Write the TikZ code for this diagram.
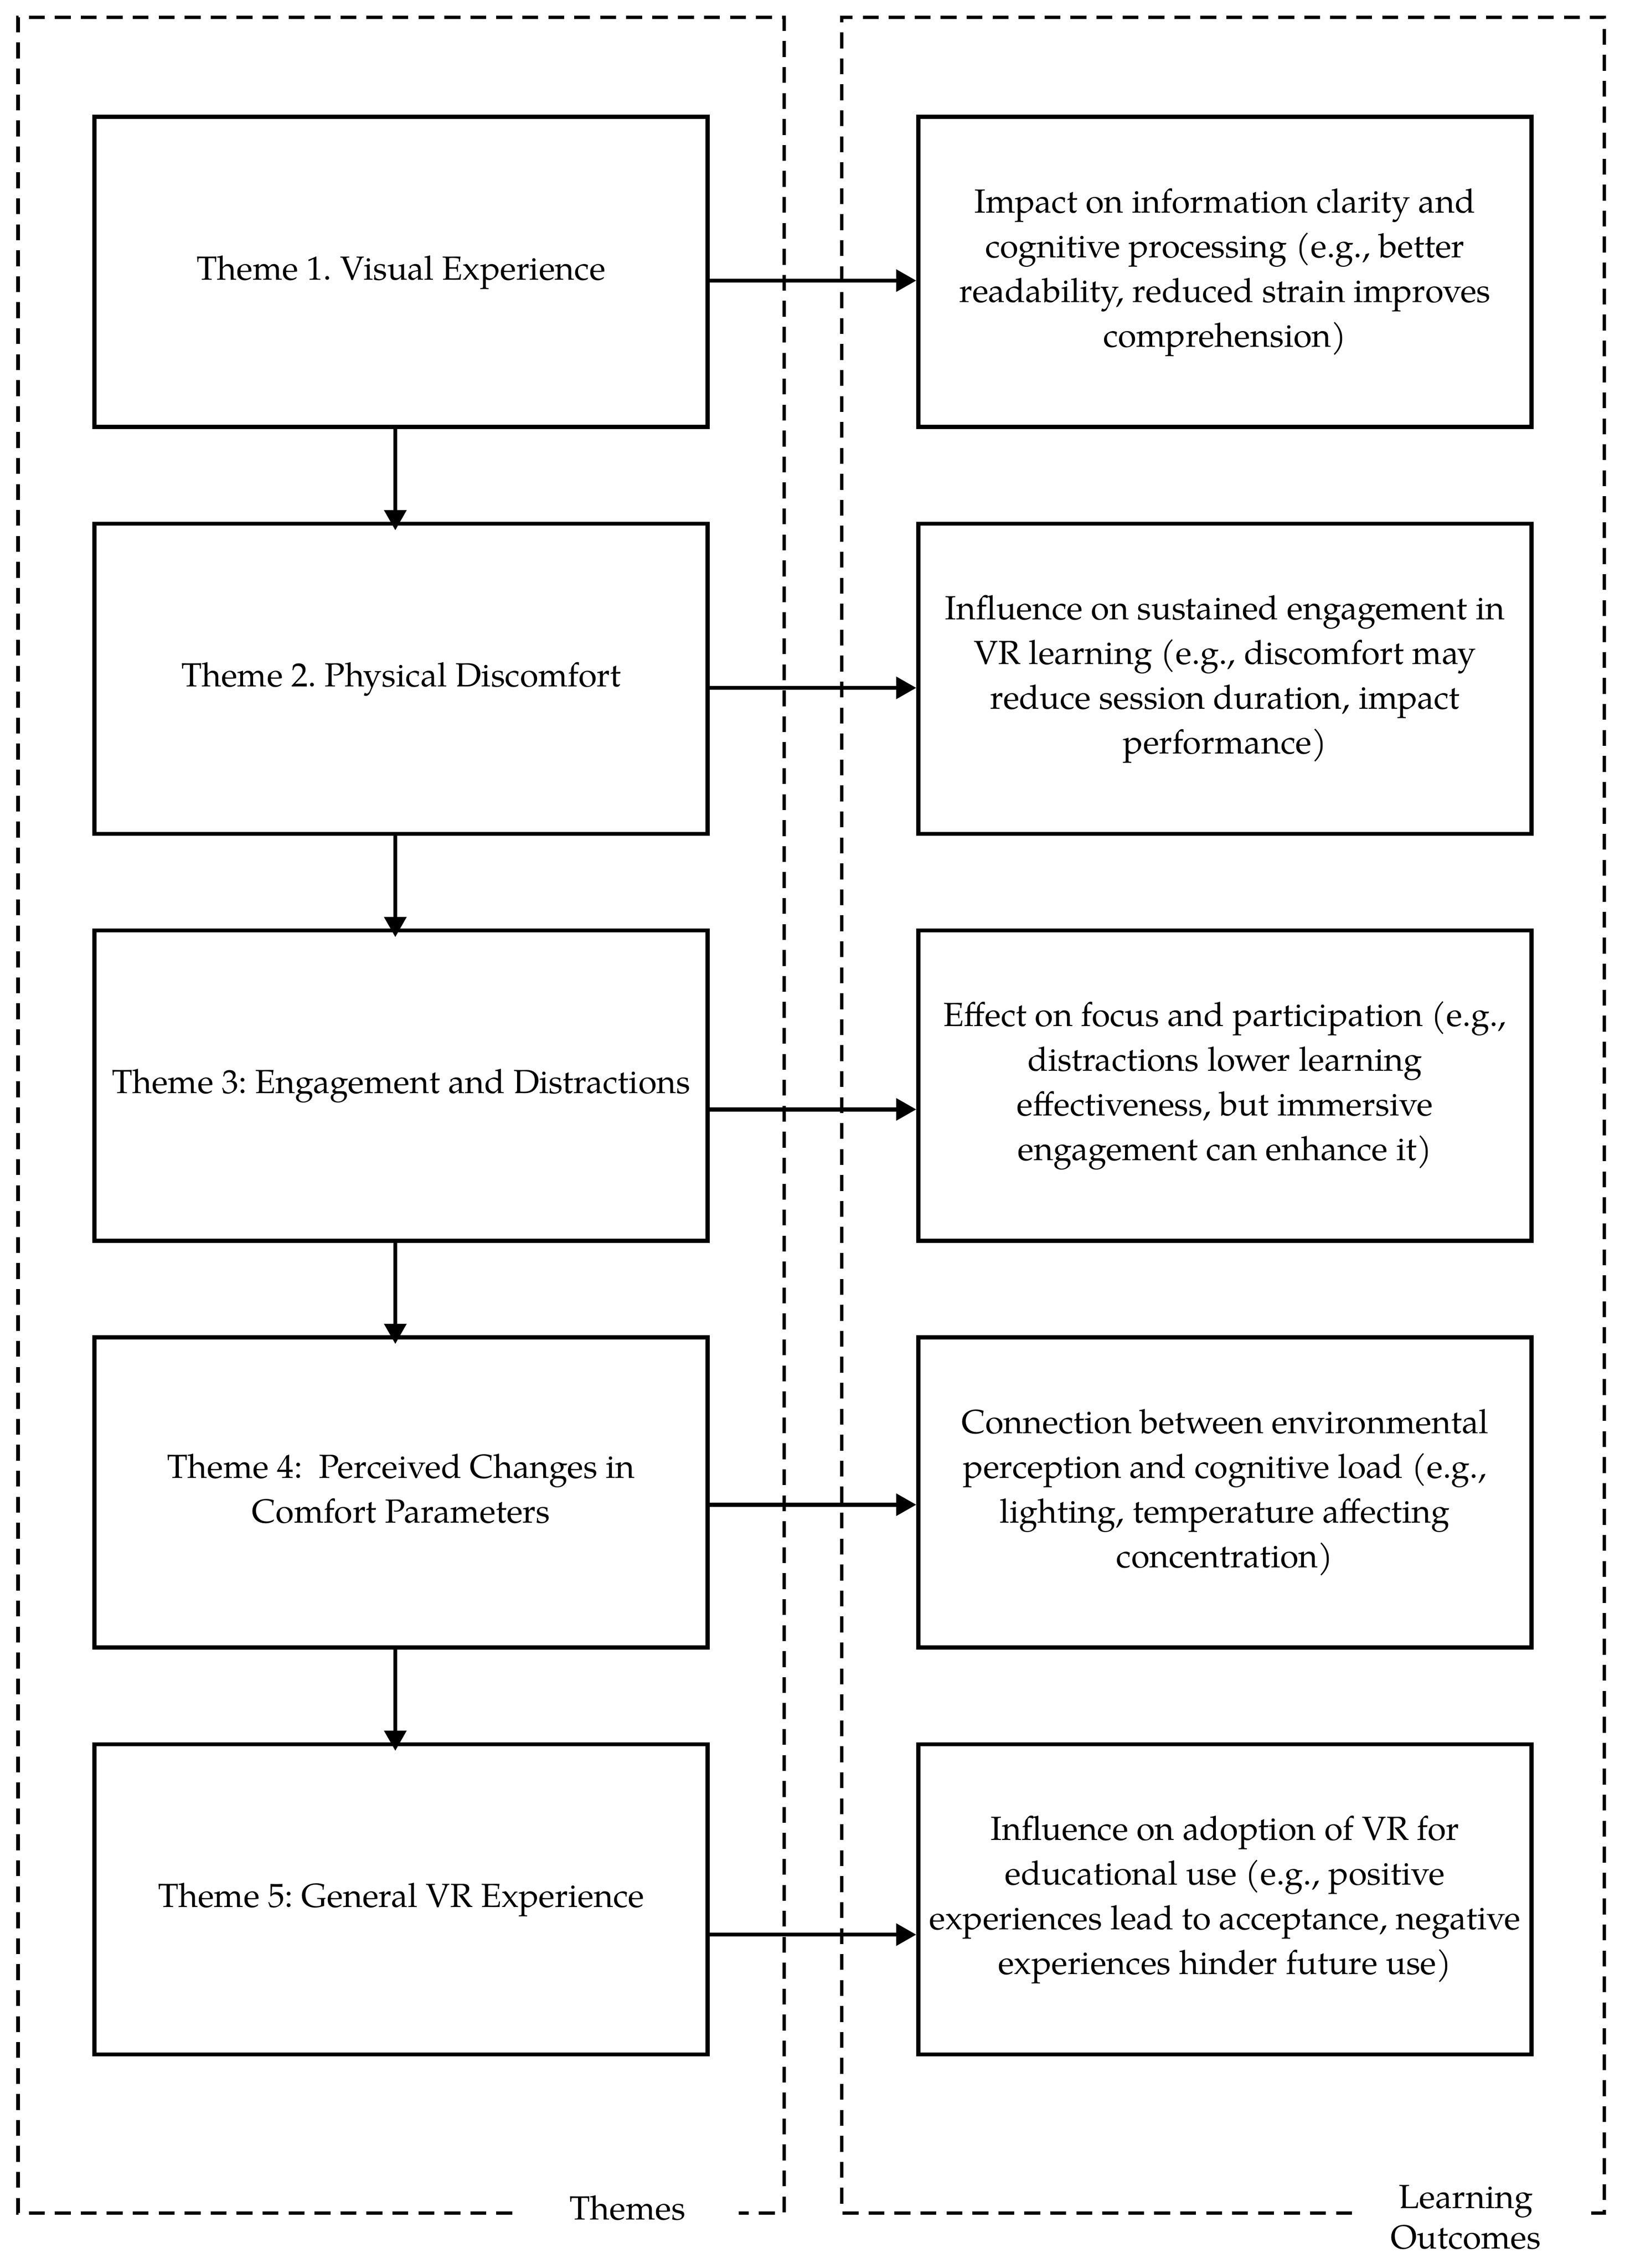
\documentclass[tikz,border=0pt]{standalone}
\usepackage{fontspec}
\setmainfont{TeX Gyre Pagella}
\usetikzlibrary{arrows.meta}
\frenchspacing
\newcommand\Hs{\rule{0pt}{9pt}}
\newcommand\Ds{\rule[-3.5pt]{0pt}{3.5pt}}
\begin{document}
\begin{tikzpicture}[x=0.5pt,y=-0.5pt,
  every node/.style={font=\fontsize{11.6}{15.5}\selectfont},
  box/.style={draw, line width=1.4pt, minimum width=212.5pt, minimum height=107.5pt, align=center, inner sep=0pt},
  frame/.style={line width=1.2pt, dash pattern=on 5.5pt off 3.5pt},
  arr/.style={line width=1.4pt, -{Triangle[length=7pt,width=7.5pt]}},
  lbl/.style={inner sep=0pt}]
\useasboundingbox (0,0) rectangle (1126,1572.1);
% dashed frames
\draw[frame] (355,1534) -- (12.5,1534) -- (12.5,12) -- (543.5,12) -- (543.5,1534) -- (512,1534);
\draw[frame] (937,1534) -- (583.5,1534) -- (583.5,12) -- (1112,12) -- (1112,1534) -- (1097,1534);
% theme boxes
\node[box] (t1) at (278,188.5) {\Hs Theme 1. Visual Experience\Ds};
\node[box] (t2) at (278,470.5) {\Hs Theme 2. Physical Discomfort\Ds};
\node[box] (t3) at (278,752.5) {\Hs Theme 3: Engagement and Distractions\Ds};
\node[box] (t4) at (278,1034.5) {\Hs Theme 4:\ \ Perceived Changes in\\Comfort Parameters\Ds};
\node[box] (t5) at (278,1316.5) {\Hs Theme 5: General VR Experience\Ds};
% outcome boxes
\node[box] (o1) at (849,188.5) {\Hs Impact on information clarity and\\cognitive processing (e.g., better\\readability, reduced strain improves\\comprehension)\Ds};
\node[box] (o2) at (849,470.5) {\Hs Influence on sustained engagement in\\VR learning (e.g., discomfort may\\reduce session duration, impact\\performance)\Ds};
\node[box] (o3) at (849,752.5) {\Hs Effect on focus and participation (e.g.,\\distractions lower learning\\effectiveness, but immersive\\engagement can enhance it)\Ds};
\node[box] (o4) at (849,1034.5) {\Hs Connection between environmental\\perception and cognitive load (e.g.,\\lighting, temperature affecting\\concentration)\Ds};
\node[box] (o5) at (849,1316.5) {\Hs Influence on adoption of VR for\\educational use (e.g., positive\\experiences lead to acceptance, negative\\experiences hinder future use)\Ds};
% horizontal arrows
\draw[arr] ([yshift=-3pt]t1.east) -- ([yshift=-3pt]o1.west);
\draw[arr] ([yshift=-3.15pt]t2.east) -- ([yshift=-3.15pt]o2.west);
\draw[arr] ([yshift=-8.25pt]t3.east) -- ([yshift=-8.25pt]o3.west);
\draw[arr] ([yshift=-4.25pt]t4.east) -- ([yshift=-4.25pt]o4.west);
\draw[arr] ([yshift=-12.25pt]t5.east) -- ([yshift=-12.25pt]o5.west);
% vertical arrows
\draw[arr, shorten >=-3pt] ([xshift=-2pt]t1.south) -- ([xshift=-2pt]t2.north);
\draw[arr, shorten >=-3pt] ([xshift=-2pt]t2.south) -- ([xshift=-2pt]t3.north);
\draw[arr, shorten >=-3pt] ([xshift=-2pt]t3.south) -- ([xshift=-2pt]t4.north);
\draw[arr, shorten >=-3pt] ([xshift=-2pt]t4.south) -- ([xshift=-2pt]t5.north);
% frame labels
\node[lbl, anchor=base] (themes) at (435,1538.5) {Themes};
\node[lbl, align=center, font=\fontsize{11.6}{14}\selectfont] (lo) at (1016,1537) {Learning\\Outcomes};
\end{tikzpicture}
\end{document}
